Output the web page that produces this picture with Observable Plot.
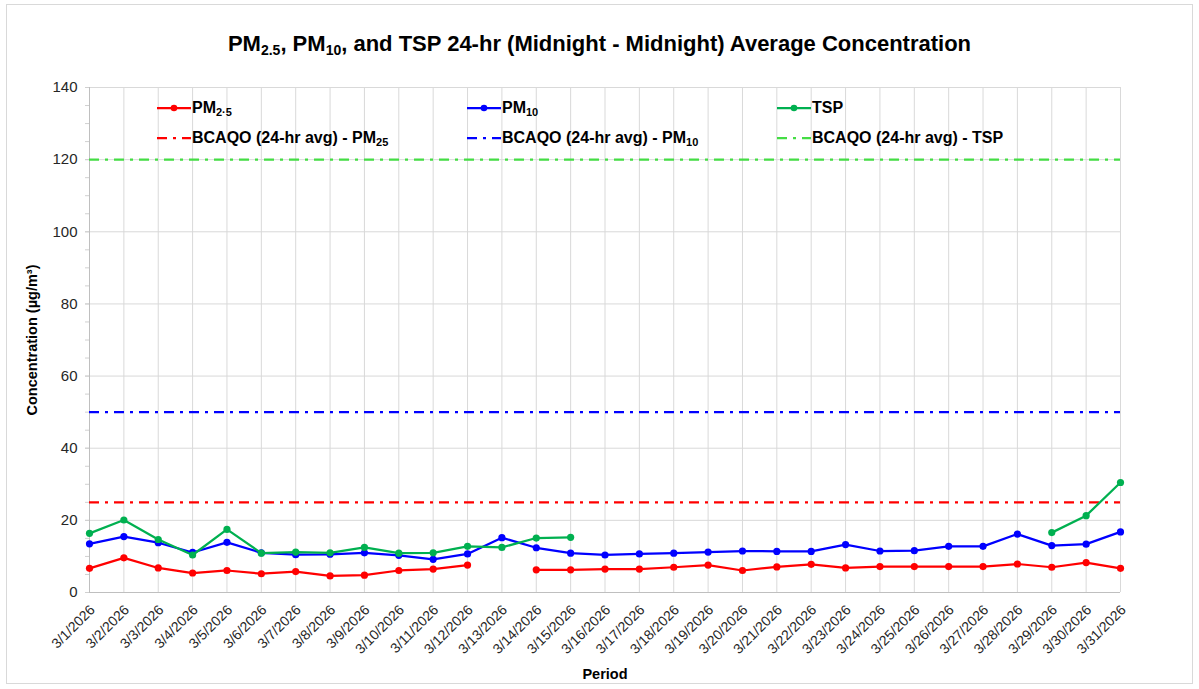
<!DOCTYPE html>
<html>
<head>
<meta charset="utf-8">
<script src="https://cdn.jsdelivr.net/npm/d3@7"></script>
<script src="https://cdn.jsdelivr.net/npm/@observablehq/plot@0.6"></script>
<style>
  body { margin: 0; background: #fff; }
  #wrap { position: relative; width: 1199px; height: 689px; font-family: "Liberation Sans", Arial, sans-serif; overflow: hidden; }
  #border { position: absolute; left: 6px; top: 4px; width: 1187px; height: 680px; border: 1px solid #d9d9d9; box-sizing: border-box; pointer-events: none; }
  #title { height: 70px; position: relative; }
  #title span { position: absolute; left: 0; right: 0; top: 31px; text-align: center; font-weight: bold; font-size: 22px; color: #000; }
  #title sub { font-size: 14px; vertical-align: -4px; line-height: 0; }
  .leg { position: absolute; display: flex; align-items: center; font-weight: bold; font-size: 16px; color: #000; white-space: nowrap; }
  .leg sub { font-size: 11px; vertical-align: -3px; line-height: 0; }
  .leg svg { margin-right: 1px; }
</style>
</head>
<body>
<div id="wrap">
  <div id="border"></div>
  <div id="title"><span>PM<sub>2.5</sub>, PM<sub>10</sub>, and TSP 24-hr (Midnight - Midnight) Average Concentration</span></div>
  <div id="chart"></div>
  <div id="legend"></div>
</div>
<script>
const dates = ["3/1/2026","3/2/2026","3/3/2026","3/4/2026","3/5/2026","3/6/2026","3/7/2026","3/8/2026","3/9/2026","3/10/2026",
  "3/11/2026","3/12/2026","3/13/2026","3/14/2026","3/15/2026","3/16/2026","3/17/2026","3/18/2026","3/19/2026","3/20/2026",
  "3/21/2026","3/22/2026","3/23/2026","3/24/2026","3/25/2026","3/26/2026","3/27/2026","3/28/2026","3/29/2026","3/30/2026","3/31/2026"];
const pm25 = [6.7,9.6,6.8,5.4,6.1,5.2,5.8,4.6,4.8,6.1,6.5,7.6,null,6.3,6.3,6.5,6.5,7.0,7.6,6.1,7.1,7.8,6.8,7.2,7.2,7.2,7.2,7.9,7.0,8.3,6.7];
const pm10 = [13.5,15.5,13.8,11.1,13.9,11.0,10.5,10.6,11.0,10.3,9.2,10.7,15.2,12.4,10.9,10.4,10.7,10.9,11.2,11.5,11.4,11.4,13.3,11.5,11.6,12.8,12.8,16.2,13.0,13.4,16.8];
const tsp  = [16.4,20.1,14.7,10.4,17.5,10.9,11.2,11.0,12.5,10.9,11.0,12.8,12.5,15.1,15.3,null,null,null,null,null,null,null,null,null,null,null,null,null,16.6,21.3,30.5];
const limitPm25 = [25];
const limitPm10 = [50];
const limitTsp = [120];
const yTicks = [0,20,40,60,80,100,120,140];
const yMinorTicks = [0,5,10,15,20,25,30,35,40,45,50,55,60,65,70,75,80,85,90,95,100,105,110,115,120,125,130,135,140];

const colors = {pm25: "#ff0000", pm10: "#0000ff", tsp: "#00b050", lim25: "#ff0000", lim10: "#0000ff", limTsp: "#44dd44"};
const dashDot = "10,6,3,6";

const rows = (arr) => dates.map((d, i) => ({date: d, value: arr[i]}));
const dPm25 = rows(pm25), dPm10 = rows(pm10), dTsp = rows(tsp);

const seriesMarks = (data, color) => [
  Plot.line(data, {x: "date", y: "value", stroke: color, strokeWidth: 2.25}),
  Plot.dot(data.filter(d => d.value != null), {x: "date", y: "value", fill: color, r: 3.6})
];

const chart = Plot.plot({
  width: 1199,
  height: 619,
  marginLeft: 89,
  marginRight: 79,
  marginTop: 17,
  marginBottom: 97,
  style: {fontFamily: "Liberation Sans, Arial, sans-serif", fontSize: "14px", color: "#262626", background: "transparent"},
  x: {type: "point", domain: dates, padding: 0, round: false},
  y: {domain: [0, 140]},
  marks: [
    Plot.gridX({stroke: "#d9d9d9", strokeOpacity: 1}),
    Plot.gridY(yTicks, {stroke: "#d9d9d9", strokeOpacity: 1}),
    Plot.axisY(yMinorTicks, {tickSize: 4, text: null, label: null, stroke: "#d0d0d0"}),
    Plot.axisY(yTicks, {tickSize: 4, tickPadding: 8, fontSize: 15, stroke: "#d0d0d0",
      label: "Concentration (µg/m³)", labelAnchor: "center", labelArrow: "none", labelOffset: 63}),
    Plot.axisX({tickRotate: -45, tickSize: 0, tickPadding: 15, fontSize: 14, dx: 3,
      label: "Period", labelAnchor: "center", labelArrow: "none", labelOffset: 86}),
    Plot.ruleX([dates[0]], {stroke: "#bfbfbf"}),
    Plot.ruleY([0], {stroke: "#bfbfbf"}),
    Plot.ruleY(limitTsp, {stroke: colors.limTsp, strokeWidth: 2.25, strokeDasharray: dashDot}),
    Plot.ruleY(limitPm10, {stroke: colors.lim10, strokeWidth: 2.25, strokeDasharray: dashDot}),
    Plot.ruleY(limitPm25, {stroke: colors.lim25, strokeWidth: 2.25, strokeDasharray: dashDot}),
    ...seriesMarks(dPm25, colors.pm25),
    ...seriesMarks(dPm10, colors.pm10),
    ...seriesMarks(dTsp, colors.tsp)
  ]
});
// bold axis labels
chart.querySelectorAll("[aria-label='y-axis label'] text, [aria-label='x-axis label'] text").forEach(t => {
  t.setAttribute("font-weight", "bold"); t.setAttribute("fill", "#000"); t.setAttribute("font-size", "14.5");
});
document.getElementById("chart").appendChild(chart);

// Legend
const legendItems = [
  {label: "PM<sub>2·5</sub>", color: colors.pm25, kind: "series", col: 0, row: 0},
  {label: "PM<sub>10</sub>", color: colors.pm10, kind: "series", col: 1, row: 0},
  {label: "TSP", color: colors.tsp, kind: "series", col: 2, row: 0},
  {label: "BCAQO (24-hr avg) - PM<sub>25</sub>", color: colors.lim25, kind: "limit", col: 0, row: 1},
  {label: "BCAQO (24-hr avg) - PM<sub>10</sub>", color: colors.lim10, kind: "limit", col: 1, row: 1},
  {label: "BCAQO (24-hr avg) - TSP", color: colors.limTsp, kind: "limit", col: 2, row: 1}
];
const legend = document.getElementById("legend");
legendItems.forEach(it => {
  const div = document.createElement("div");
  div.className = "leg";
  div.style.left = (157 + it.col * 310) + "px";
  div.style.top = (98 + it.row * 30) + "px";
  div.style.height = "20px";
  const sw = it.kind === "series"
    ? `<svg width="34" height="10"><line x1="0" x2="34" y1="5" y2="5" stroke="${it.color}" stroke-width="2.25"/><circle cx="17" cy="5" r="3.3" fill="${it.color}"/></svg>`
    : `<svg width="34" height="10"><line x1="0" x2="34" y1="5" y2="5" stroke="${it.color}" stroke-width="2.25" stroke-dasharray="${dashDot}"/></svg>`;
  div.innerHTML = sw + `<span>${it.label}</span>`;
  legend.appendChild(div);
});
</script>
</body>
</html>
